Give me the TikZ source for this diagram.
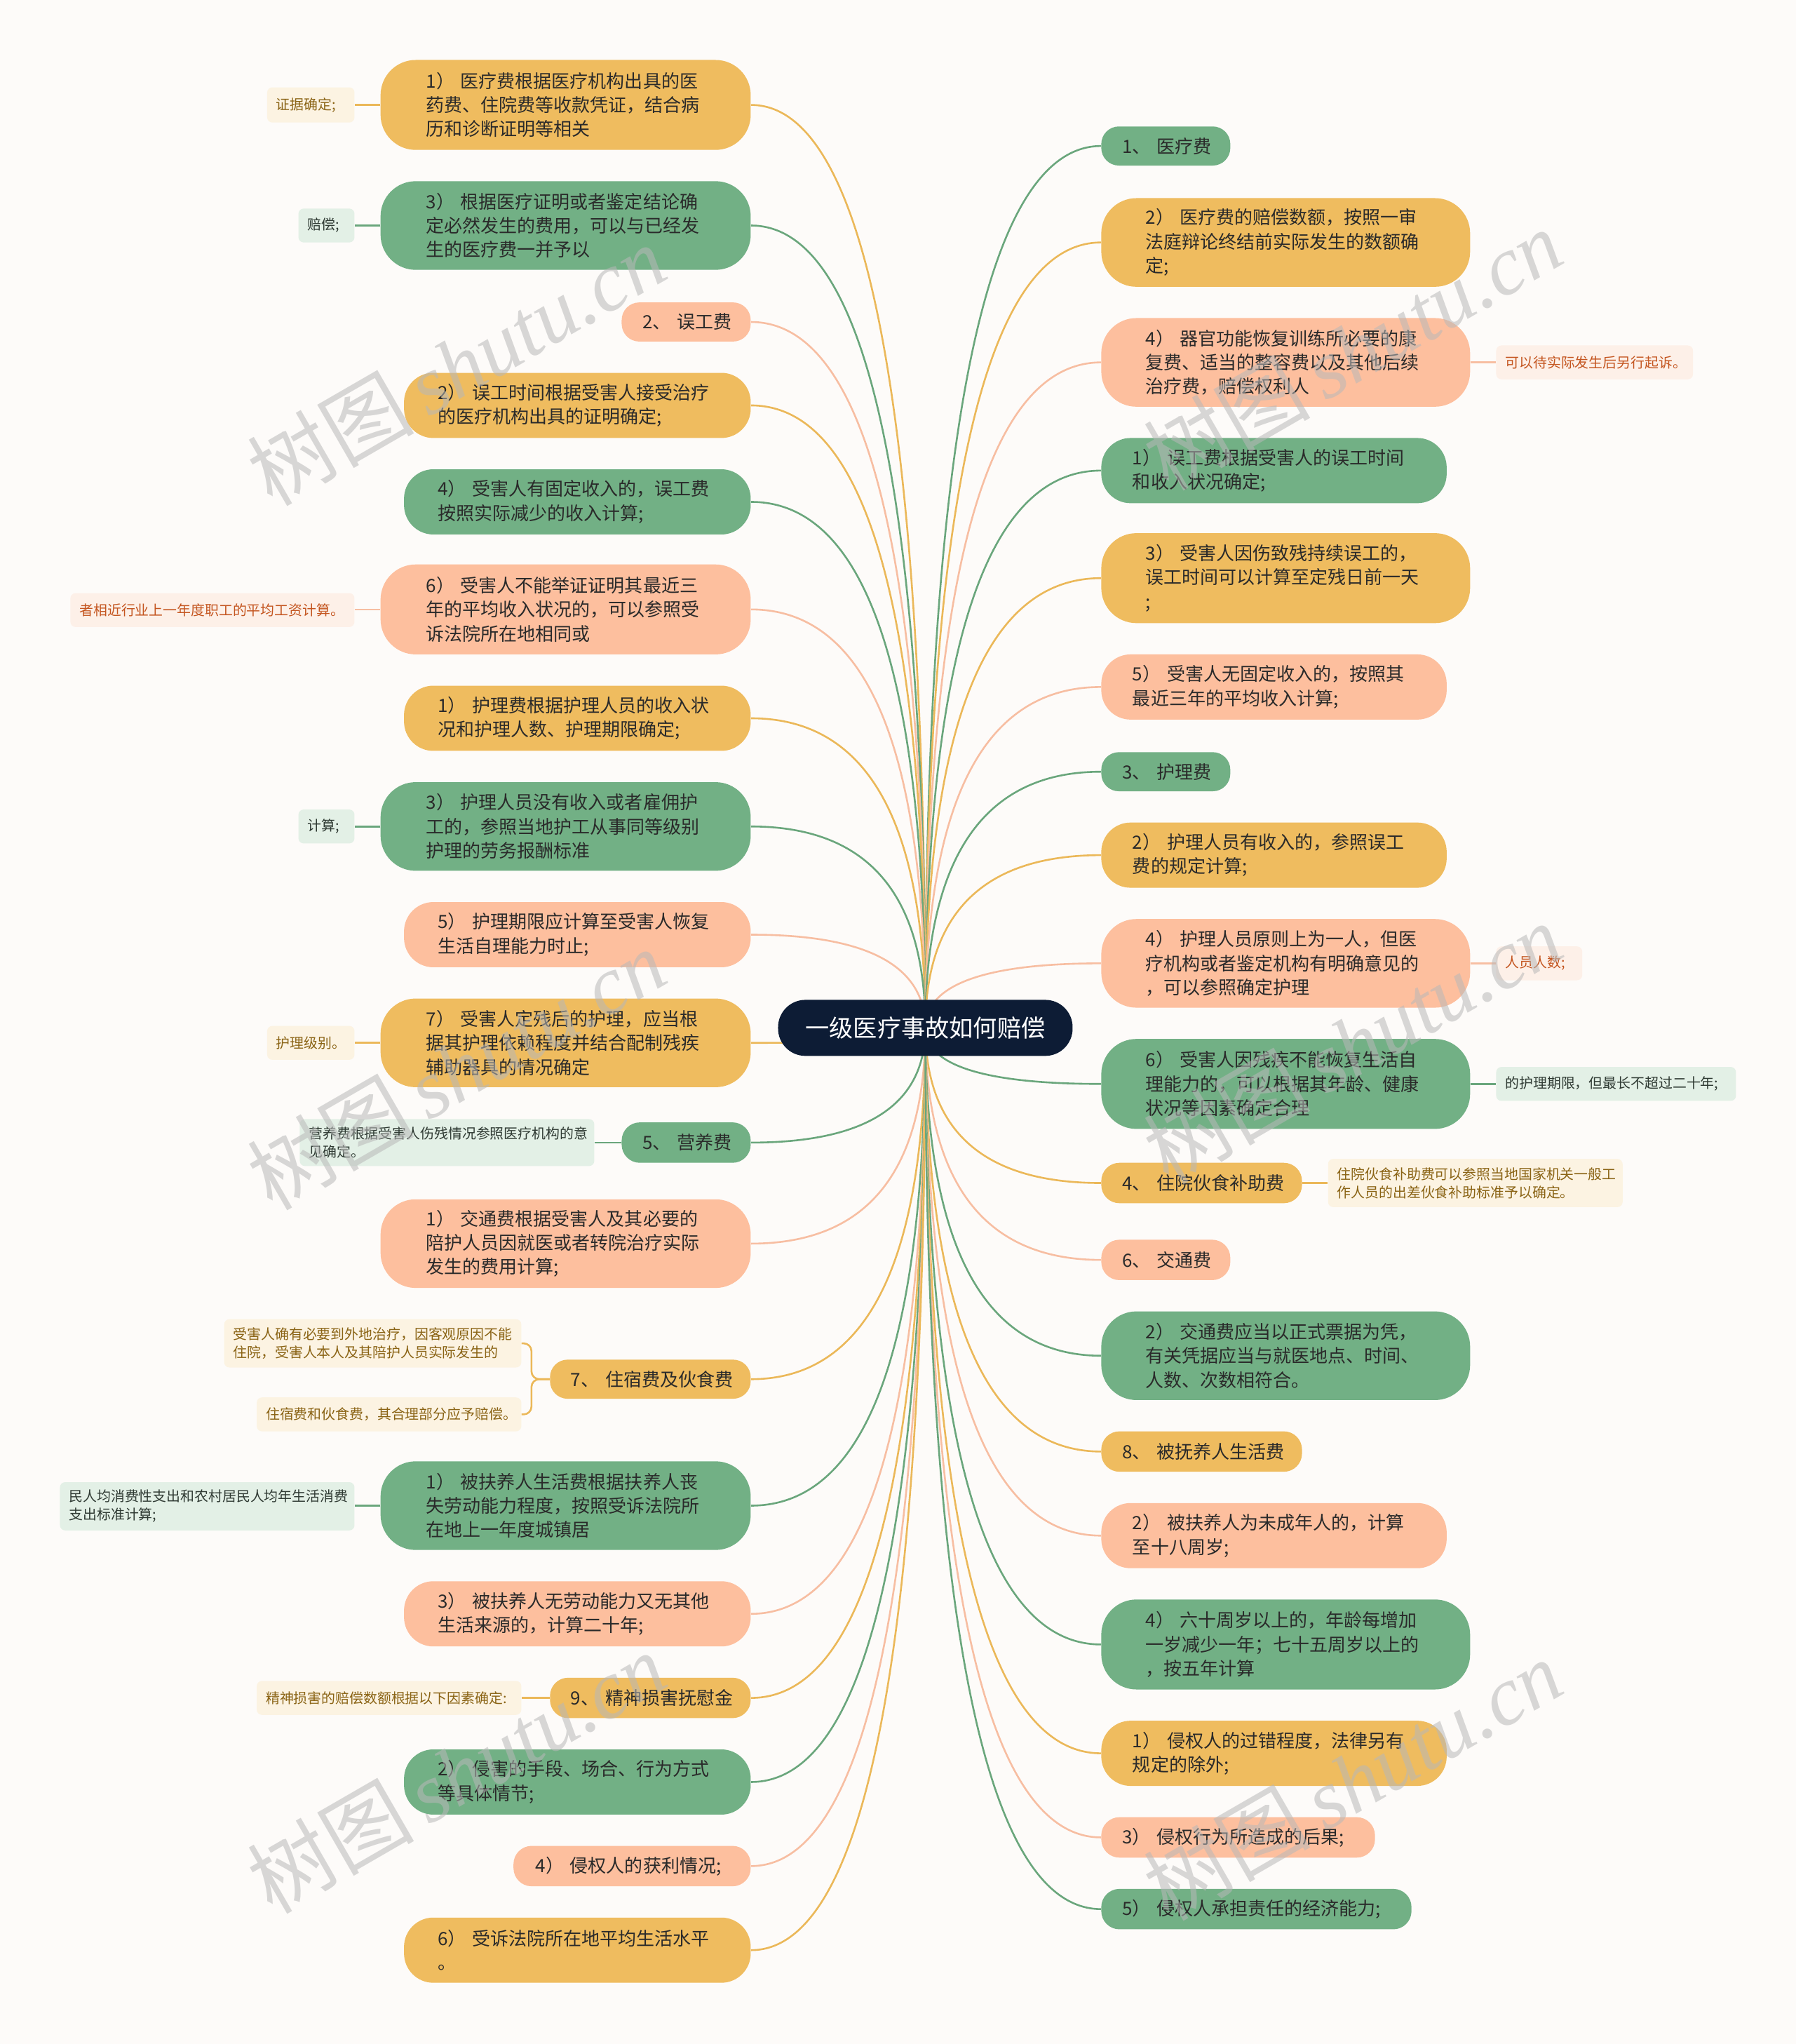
\documentclass[tikz,border=0pt]{standalone}
\usepackage{fontspec}
\setmainfont{Noto Sans CJK SC}
\newfontfamily\cjk{Noto Sans CJK SC}
\newfontfamily\wmser{Liberation Serif}
\usetikzlibrary{calc}
\definecolor{bgc}{HTML}{FDFBF9}
\definecolor{gfill}{HTML}{72B085}
\definecolor{yfill}{HTML}{EFBC5F}
\definecolor{sfill}{HTML}{FDBF9E}
\definecolor{gline}{HTML}{6AA67C}
\definecolor{yline}{HTML}{EBB859}
\definecolor{sline}{HTML}{F7BEA2}
\definecolor{glabf}{HTML}{E3F0E6}
\definecolor{ylabf}{HTML}{FCF3E2}
\definecolor{slabf}{HTML}{FDF0E8}
\definecolor{glabt}{HTML}{2F3A33}
\definecolor{ylabt}{HTML}{8A6314}
\definecolor{slabt}{HTML}{C4551F}
\definecolor{rootc}{HTML}{0D1C35}
\definecolor{txt}{HTML}{2A2A2A}
\pgfdeclarelayer{back}
\pgfdeclarelayer{bg}
\pgfdeclarelayer{fg}
\pgfsetlayers{back,bg,main,fg}
\tikzset{
  boxbase/.style={inner sep=0pt, align=left, text=txt, font=\cjk\fontsize{14}{18.5}\selectfont},
  gbox/.style={boxbase, fill=gfill},
  ybox/.style={boxbase, fill=yfill},
  sbox/.style={boxbase, fill=sfill},
  labbase/.style={inner sep=0pt, align=left, rounded corners=4pt, font=\cjk\fontsize{10.7}{14}\selectfont},
  glab/.style={labbase, fill=glabf, text=glabt},
  ylab/.style={labbase, fill=ylabf, text=ylabt},
  slab/.style={labbase, fill=slabf, text=slabt},
  gl/.style={draw=gline, line width=1.4pt},
  yl/.style={draw=yline, line width=1.4pt},
  sl/.style={draw=sline, line width=1.4pt},
  rootbox/.style={fill=rootc, text=white, inner sep=0pt, minimum width=226pt, minimum height=43pt, rounded corners=21pt, font=\cjk\fontsize{18.4}{20}\selectfont},
  wm/.style={text=black!28, opacity=0.55, font=\fontsize{64}{70}\selectfont, inner sep=0pt}
}
\newcommand{\bx}[8]{%
  \pgfmathsetmacro{\bw}{#5-#3}\pgfmathsetmacro{\bh}{#6-#4}%
  \pgfmathsetmacro{\btw}{#5-#3-2*#7}\pgfmathsetmacro{\brr}{min(0.45*(#6-#4),27)}%
  \node[#2, minimum width=\bw pt, minimum height=\bh pt, text width=\btw pt, rounded corners=\brr pt] (#1) at ({(#3+#5)/2},{(#4+#6)/2}) {#8};}
\newcommand{\lb}[7]{%
  \pgfmathsetmacro{\bw}{#5-#3}\pgfmathsetmacro{\bh}{#6-#4}\pgfmathsetmacro{\btw}{#5-#3-14}%
  \node[#2, minimum width=\bw pt, minimum height=\bh pt, text width=\btw pt] (#1) at ({(#3+#5)/2},{(#4+#6)/2}) {#7};}
\newcommand{\lk}[2]{%
  \coordinate (q) at (root.center |- #2);
  \draw[#1] (root.center) .. controls ($(root.center)!0.667!(q)$) and ($(#2)!0.667!(q)$) .. (#2);}
\begin{document}
\begin{tikzpicture}[x=1pt,y=-1pt]
\begin{pgfonlayer}{back}
\fill[bgc] (0,0) rectangle (1378,1568);
\end{pgfonlayer}
\useasboundingbox (0,0) rectangle (1378,1568);

\node[rootbox] (root) at (710,788.5) {一级医疗事故如何赔偿};

% ---------- left side ----------
\bx{L1}{ybox}{292}{46}{576}{115}{35}{1）~医疗费根据医疗机构出具的医\\药费、住院费等收款凭证，结合病\\历和诊断证明等相关}
\lb{L1l}{ylab}{205}{67}{272}{94}{证据确定;}
\bx{L2}{gbox}{292}{139}{576}{207}{35}{3）~根据医疗证明或者鉴定结论确\\定必然发生的费用，可以与已经发\\生的医疗费一并予以}
\lb{L2l}{glab}{229}{160}{272}{186}{赔偿;}
\bx{L3}{sbox}{477}{232}{576}{262}{16}{2、~误工费}
\bx{L4}{ybox}{310}{286}{576}{336}{26}{2）~误工时间根据受害人接受治疗\\的医疗机构出具的证明确定;}
\bx{L5}{gbox}{310}{360}{576}{410}{26}{4）~受害人有固定收入的，误工费\\按照实际减少的收入计算;}
\bx{L6}{sbox}{292}{433}{576}{502}{35}{6）~受害人不能举证证明其最近三\\年的平均收入状况的，可以参照受\\诉法院所在地相同或}
\lb{L6l}{slab}{54}{455}{272}{481}{者相近行业上一年度职工的平均工资计算。}
\bx{L7}{ybox}{310}{526}{576}{576}{26}{1）~护理费根据护理人员的收入状\\况和护理人数、护理期限确定;}
\bx{L8}{gbox}{292}{600}{576}{668}{35}{3）~护理人员没有收入或者雇佣护\\工的，参照当地护工从事同等级别\\护理的劳务报酬标准}
\lb{L8l}{glab}{229}{621}{272}{647}{计算;}
\bx{L9}{sbox}{310}{692}{576}{742}{26}{5）~护理期限应计算至受害人恢复\\生活自理能力时止;}
\bx{L10}{ybox}{292}{766}{576}{834}{35}{7）~受害人定残后的护理，应当根\\据其护理依赖程度并结合配制残疾\\辅助器具的情况确定}
\lb{L10l}{ylab}{205}{787}{272}{813}{护理级别。}
\bx{L11}{gbox}{477}{861}{576}{892}{16}{5、~营养费}
\lb{L11l}{glab}{230}{858.5}{456}{894.5}{营养费根据受害人伤残情况参照医疗机构的意\\见确定。}
\bx{L12}{sbox}{292}{920}{576}{988}{35}{1）~交通费根据受害人及其必要的\\陪护人员因就医或者转院治疗实际\\发生的费用计算;}
\bx{L13}{ybox}{422}{1043}{576}{1073}{16}{7、~住宿费及伙食费}
\lb{L13a}{ylab}{172}{1012}{400}{1049}{受害人确有必要到外地治疗，因客观原因不能\\住院，受害人本人及其陪护人员实际发生的}
\lb{L13b}{ylab}{197}{1072}{400}{1098}{住宿费和伙食费，其合理部分应予赔偿。}
\bx{L14}{gbox}{292}{1121}{576}{1189}{35}{1）~被扶养人生活费根据扶养人丧\\失劳动能力程度，按照受诉法院所\\在地上一年度城镇居}
\lb{L14l}{glab}{46}{1137}{272}{1174}{民人均消费性支出和农村居民人均年生活消费\\支出标准计算;}
\bx{L15}{sbox}{310}{1213}{576}{1263}{26}{3）~被扶养人无劳动能力又无其他\\生活来源的，计算二十年;}
\bx{L16}{ybox}{422}{1287}{576}{1318}{16}{9、~精神损害抚慰金}
\lb{L16l}{ylab}{197}{1289.5}{400}{1315.5}{精神损害的赔偿数额根据以下因素确定:}
\bx{L17}{gbox}{310}{1342}{576}{1392}{26}{2）~侵害的手段、场合、行为方式\\等具体情节;}
\bx{L18}{sbox}{394}{1416}{576}{1447}{17}{4）~侵权人的获利情况;}
\bx{L19}{ybox}{310}{1471}{576}{1521}{26}{6）~受诉法院所在地平均生活水平\\。}

% ---------- right side ----------
\bx{R1}{gbox}{845}{97}{944}{127}{16}{1、~医疗费}
\bx{R2}{ybox}{845}{152}{1128}{220}{34}{2）~医疗费的赔偿数额，按照一审\\法庭辩论终结前实际发生的数额确\\定;}
\bx{R3}{sbox}{845}{244}{1128}{312}{34}{4）~器官功能恢复训练所必要的康\\复费、适当的整容费以及其他后续\\治疗费，赔偿权利人}
\lb{R3l}{slab}{1148}{265}{1299}{291}{可以待实际发生后另行起诉。}
\bx{R4}{gbox}{845}{336}{1110}{386}{24}{1）~误工费根据受害人的误工时间\\和收入状况确定;}
\bx{R5}{ybox}{845}{409}{1128}{478}{34}{3）~受害人因伤致残持续误工的，\\误工时间可以计算至定残日前一天\\;}
\bx{R6}{sbox}{845}{502}{1110}{552}{24}{5）~受害人无固定收入的，按照其\\最近三年的平均收入计算;}
\bx{R7}{gbox}{845}{577}{944}{607}{16}{3、~护理费}
\bx{R8}{ybox}{845}{631}{1110}{681}{24}{2）~护理人员有收入的，参照误工\\费的规定计算;}
\bx{R9}{sbox}{845}{705}{1128}{773}{34}{4）~护理人员原则上为一人，但医\\疗机构或者鉴定机构有明确意见的\\，可以参照确定护理}
\lb{R9l}{slab}{1148}{726}{1214}{752}{人员人数;}
\bx{R10}{gbox}{845}{797}{1128}{866}{34}{6）~受害人因残疾不能恢复生活自\\理能力的，可以根据其年龄、健康\\状况等因素确定合理}
\lb{R10l}{glab}{1148}{818.5}{1332}{844.5}{的护理期限，但最长不超过二十年;}
\bx{R11}{ybox}{845}{892}{999}{923}{16}{4、~住院伙食补助费}
\lb{R11l}{ylab}{1019}{889}{1245}{926}{住院伙食补助费可以参照当地国家机关一般工\\作人员的出差伙食补助标准予以确定。}
\bx{R12}{sbox}{845}{951}{944}{982}{16}{6、~交通费}
\bx{R13}{gbox}{845}{1006}{1128}{1074}{34}{2）~交通费应当以正式票据为凭，\\有关凭据应当与就医地点、时间、\\人数、次数相符合。}
\bx{R14}{ybox}{845}{1098}{999}{1129}{16}{8、~被抚养人生活费}
\bx{R15}{sbox}{845}{1153}{1110}{1203}{24}{2）~被扶养人为未成年人的，计算\\至十八周岁;}
\bx{R16}{gbox}{845}{1227}{1128}{1296}{34}{4）~六十周岁以上的，年龄每增加\\一岁减少一年；七十五周岁以上的\\，按五年计算}
\bx{R17}{ybox}{845}{1320}{1110}{1370}{24}{1）~侵权人的过错程度，法律另有\\规定的除外;}
\bx{R18}{sbox}{845}{1394}{1055}{1425}{16}{3）~侵权行为所造成的后果;}
\bx{R19}{gbox}{845}{1449}{1083}{1480}{16}{5）~侵权人承担责任的经济能力;}

% ---------- connectors ----------
\begin{pgfonlayer}{bg}
\lk{yl}{L1.east}\lk{gl}{L2.east}\lk{sl}{L3.east}\lk{yl}{L4.east}
\lk{gl}{L5.east}\lk{sl}{L6.east}\lk{yl}{L7.east}\lk{gl}{L8.east}
\lk{sl}{L9.east}\lk{yl}{L10.east}\lk{gl}{L11.east}\lk{sl}{L12.east}
\lk{yl}{L13.east}\lk{gl}{L14.east}\lk{sl}{L15.east}\lk{yl}{L16.east}
\lk{gl}{L17.east}\lk{sl}{L18.east}\lk{yl}{L19.east}
\lk{gl}{R1.west}\lk{yl}{R2.west}\lk{sl}{R3.west}\lk{gl}{R4.west}
\lk{yl}{R5.west}\lk{sl}{R6.west}\lk{gl}{R7.west}\lk{yl}{R8.west}
\lk{sl}{R9.west}\lk{gl}{R10.west}\lk{yl}{R11.west}\lk{sl}{R12.west}
\lk{gl}{R13.west}\lk{yl}{R14.west}\lk{sl}{R15.west}\lk{gl}{R16.west}
\lk{yl}{R17.west}\lk{sl}{R18.west}\lk{gl}{R19.west}
% sub-labels
\draw[yl] (L1.west) -- (L1.west -| L1l.east);
\draw[gl] (L2.west) -- (L2.west -| L2l.east);
\draw[sl] (L6.west) -- (L6.west -| L6l.east);
\draw[gl] (L8.west) -- (L8.west -| L8l.east);
\draw[yl] (L10.west) -- (L10.west -| L10l.east);
\draw[gl] (L11.west) -- (L11.west -| L11l.east);
\draw[gl] (L14.west) -- (L14.west -| L14l.east);
\draw[yl] (L16.west) -- (L16.west -| L16l.east);
\draw[yl, rounded corners=6pt] (L13.west) -- ++(-14,0) |- (L13a.east);
\draw[yl, rounded corners=6pt] (L13.west) -- ++(-14,0) |- (L13b.east);
\draw[sl] (R3.east) -- (R3.east -| R3l.west);
\draw[sl] (R9.east) -- (R9.east -| R9l.west);
\draw[gl] (R10.east) -- (R10.east -| R10l.west);
\draw[yl] (R11.east) -- (R11.east -| R11l.west);
\end{pgfonlayer}

% ---------- watermarks ----------
\begin{pgfonlayer}{fg}
\foreach \wx/\wy [count=\i] in {350/280, 350/820, 350/1360, 1038/268, 1038/800, 1038/1365}{
  \node[wm, rotate=30] (wm\i) at (\wx,\wy) {\cjk 树图\,{\wmser\itshape shutu.cn}};
}
\end{pgfonlayer}
\end{tikzpicture}
\end{document}
